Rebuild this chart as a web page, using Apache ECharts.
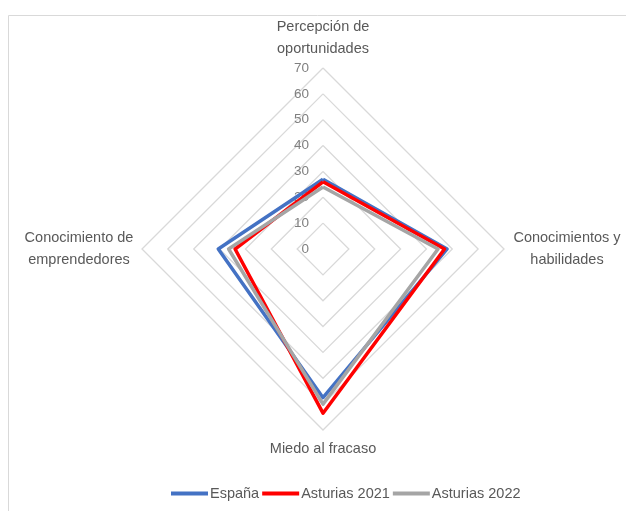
<!DOCTYPE html>
<html>
<head>
<meta charset="utf-8">
<script src="https://cdn.jsdelivr.net/npm/echarts@6/dist/echarts.min.js"></script>
<style>html,body{margin:0;padding:0;background:#fff}#c{width:626px;height:511px}</style>
</head>
<body>
<div id="c"></div>
<script>
// Listed clockwise from the top, as in the picture
const indicators = ['Percepción de\noportunidades', 'Conocimientos y\nhabilidades', 'Miedo al fracaso', 'Conocimiento de\nemprendedores'];
const axisMax = 70;
const tickStep = 10;
const espana = [27, 48, 57.5, 40.5];
const asturias2021 = [26, 47, 63.5, 34];
const asturias2022 = [24, 44.5, 60, 36.5];
const seriesNames = ['España', 'Asturias 2021', 'Asturias 2022'];
const colors = ['#4472C4', '#FF0000', '#A5A5A5'];

// ECharts radar runs counter-clockwise; reorder so the picture runs clockwise
const order = [0, 3, 2, 1];
const reorder = arr => order.map(i => arr[i]);

const font = 'Liberation Sans, Arial, sans-serif';
const chart = echarts.init(document.getElementById('c'));
chart.setOption({
  animation: false,
  color: colors,
  graphic: [{
    type: 'rect', shape: {x: 8.5, y: 15.5, width: 700, height: 600},
    style: {fill: 'none', stroke: '#D9D9D9', lineWidth: 1}, silent: true
  }],
  legend: {
    left: 166, top: 481,
    itemWidth: 37, itemHeight: 4, itemGap: 3,
    icon: 'rect',
    textStyle: {color: '#595959', fontSize: 14.5, fontFamily: font, padding: [0, 0, 0, -3]},
    data: seriesNames
  },
  radar: {
    center: [323, 249],
    radius: 181,
    shape: 'polygon',
    splitNumber: axisMax / tickStep,
    startAngle: 90,
    nameGap: 8,
    axisName: {
      formatter: v => v.split('\n').map(s => '{a|' + s + '}').join('\n'),
      rich: {a: {color: '#595959', fontSize: 14.5, fontFamily: font, lineHeight: 22, width: 110, align: 'center'}}
    },
    splitLine: {lineStyle: {color: '#D9D9D9', width: 1.3}},
    splitArea: {show: false},
    axisLine: {show: false},
    axisTick: {show: false},
    axisLabel: {show: false},
    indicator: reorder(indicators).map((n, i) => i === 0 ? {
      name: n, min: 0, max: axisMax,
      axisLabel: {show: true, color: '#7F7F7F', fontSize: 13.5, fontFamily: font, margin: 14}
    } : {name: n, min: 0, max: axisMax})
  },
  series: [{
    type: 'radar',
    symbol: 'none',
    lineStyle: {width: 3.5},
    data: [
      {name: seriesNames[0], value: reorder(espana), lineStyle: {color: colors[0], width: 3.5}, itemStyle: {color: colors[0]}},
      {name: seriesNames[1], value: reorder(asturias2021), lineStyle: {color: colors[1], width: 3.5}, itemStyle: {color: colors[1]}},
      {name: seriesNames[2], value: reorder(asturias2022), lineStyle: {color: colors[2], width: 3.5}, itemStyle: {color: colors[2]}}
    ]
  }]
});
</script>
</body>
</html>
